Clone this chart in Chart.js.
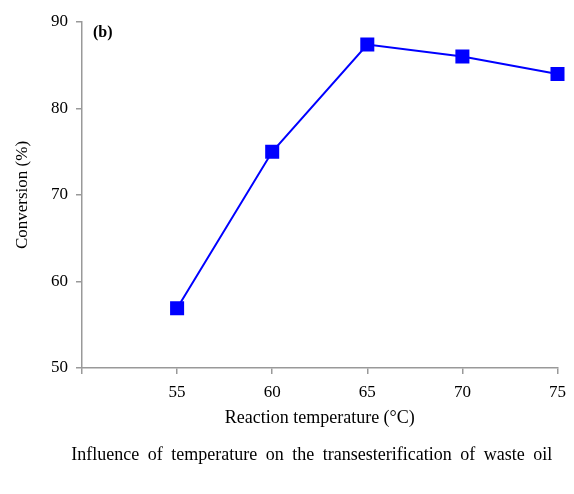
<!DOCTYPE html>
<html>
<head>
<meta charset="utf-8">
<script src="https://cdn.jsdelivr.net/npm/chart.js@4.4.1/dist/chart.umd.min.js"></script>
<style>
  html, body { margin: 0; padding: 0; background: #fff; }
  #wrap { width: 574px; height: 494px; }
</style>
</head>
<body>
<div id="wrap"><canvas id="tempChart" width="574" height="494"></canvas></div>
<script>
// temperatura de reação (°C) x conversão (%)
const temperaturas = [55, 60, 65, 70, 75];
const conversao = [56.9, 75.0, 87.4, 86.0, 84.0];
const ticksY = [50, 60, 70, 80, 90];
const ticksX = [50, 55, 60, 65, 70, 75];
const legenda = 'Influence of temperature on the transesterification of waste oil';

const serif = "'Liberation Serif', 'Times New Roman', serif";

// rótulo "(b)" dentro da área e legenda da figura embaixo
const textosExtras = {
    id: 'textosExtras',
    afterDraw(chart) {
        const { ctx, chartArea } = chart;
        ctx.save();
        ctx.font = "bold 16px " + serif;
        ctx.fillStyle = '#000';
        ctx.textBaseline = 'middle';
        ctx.fillText('(b)', chartArea.left + 11, chartArea.top + 11);

        ctx.font = "18px " + serif;
        ctx.textAlign = 'center';
        if ('wordSpacing' in ctx) ctx.wordSpacing = '4px';
        ctx.fillText(legenda, chartArea.left + (chartArea.right - chartArea.left) / 2 - 8, chart.height - 39);
        ctx.restore();
    }
};

const ctx = document.getElementById('tempChart').getContext('2d');

new Chart(ctx, {
    type: 'line',
    data: {
        datasets: [{
            label: 'Conversion',
            data: temperaturas.map((t, i) => ({ x: t, y: conversao[i] })),
            borderColor: '#0000FF',
            backgroundColor: '#0000FF',
            borderWidth: 2,
            pointStyle: 'rect',
            pointRadius: 8.5,
            pointHoverRadius: 8.5,
            tension: 0,
            fill: false,
            clip: false
        }]
    },
    options: {
        responsive: false,
        animation: false,
        layout: { padding: { top: 22, right: 16, left: 0, bottom: 50 } },
        plugins: {
            legend: { display: false },
            tooltip: { enabled: false },
            title: { display: false }
        },
        scales: {
            x: {
                type: 'linear',
                min: 50,
                max: 75,
                afterBuildTicks: (scale) => { scale.ticks = ticksX.map(v => ({ value: v })); },
                afterFit: (scale) => { scale.height = 76; },
                border: { color: '#999', width: 1.5 },
                grid: { drawOnChartArea: false, tickLength: 6, color: '#999', lineWidth: 1.5 },
                ticks: {
                    color: '#000',
                    font: { family: serif, size: 17 },
                    padding: 8,
                    maxRotation: 0,
                    callback: (v) => v === 50 ? '' : v
                },
                title: {
                    display: true,
                    text: 'Reaction temperature (°C)',
                    color: '#000',
                    font: { family: serif, size: 18 },
                    padding: { top: 10, bottom: 15 }
                }
            },
            y: {
                min: 50,
                max: 90,
                afterBuildTicks: (scale) => { scale.ticks = ticksY.map(v => ({ value: v })); },
                afterFit: (scale) => { scale.width = 82; },
                border: { color: '#999', width: 1.5 },
                grid: { drawOnChartArea: false, tickLength: 6, color: '#999', lineWidth: 1.5 },
                ticks: {
                    color: '#000',
                    font: { family: serif, size: 17 },
                    padding: 8
                },
                title: {
                    display: true,
                    text: 'Conversion (%)',
                    color: '#000',
                    font: { family: serif, size: 17 },
                    padding: { top: 12, bottom: 10 }
                }
            }
        }
    },
    plugins: [textosExtras]
});
</script>
</body>
</html>
